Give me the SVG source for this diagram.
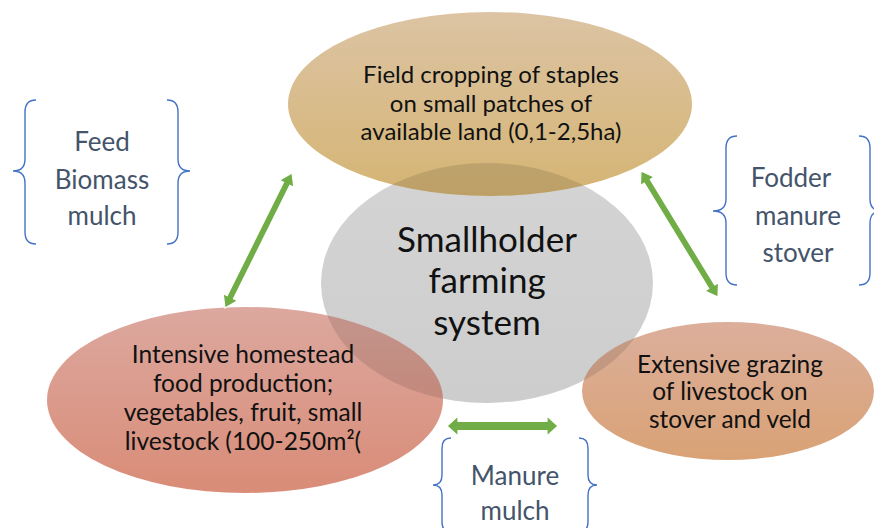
<svg xmlns="http://www.w3.org/2000/svg" width="874" height="528" viewBox="0 0 874 528">
<style>
.t{font-family:Lato,"Liberation Sans",sans-serif;fill:#111;text-anchor:middle}
.b{font-family:Lato,"Liberation Sans",sans-serif;fill:#44546a;text-anchor:middle;font-size:26px}
.brace{fill:none;stroke:#4472c4;stroke-width:1.4}
.arr{fill:#70ad47;stroke:#fff;stroke-width:1.2}
</style>
<defs>
<linearGradient id="gTop" x1="0" y1="0" x2="0" y2="1"><stop offset="0" stop-color="#dcc4a4"/><stop offset="1" stop-color="#d5b473"/></linearGradient>
<linearGradient id="gLeft" x1="0" y1="0" x2="0" y2="1"><stop offset="0" stop-color="#dca89f"/><stop offset="1" stop-color="#d98c77"/></linearGradient>
<linearGradient id="gRight" x1="0" y1="0" x2="0" y2="1"><stop offset="0" stop-color="#dcaf9c"/><stop offset="1" stop-color="#d9a275"/></linearGradient>
<linearGradient id="gGrey" x1="0" y1="0" x2="0" y2="1"><stop offset="0" stop-color="#d4d4d4"/><stop offset="1" stop-color="#cdcdcd"/></linearGradient>
<clipPath id="cOver">
<ellipse cx="490" cy="104" rx="202" ry="92"/>
<ellipse cx="245" cy="400" rx="198" ry="93"/>
<ellipse cx="728" cy="391" rx="146" ry="69"/>
</clipPath>
</defs>
<g id="node-center-shape"><ellipse cx="487" cy="283" rx="166" ry="120" fill="url(#gGrey)"/></g>
<g id="node-top"><ellipse cx="490" cy="104" rx="202" ry="92" fill="url(#gTop)"/></g>
<g id="node-left"><ellipse cx="245" cy="400" rx="198" ry="93" fill="url(#gLeft)"/></g>
<g id="node-right"><ellipse cx="728" cy="391" rx="146" ry="69" fill="url(#gRight)"/></g>
<g id="overlap"><ellipse cx="487" cy="283" rx="166" ry="120" fill="#000" fill-opacity="0.11" clip-path="url(#cOver)"/></g>
<g id="node-top-text" class="t" font-size="24">
<text x="491" y="83">Field cropping of staples</text>
<text x="491" y="112">on small patches of</text>
<text x="491" y="140">available land (0,1-2,5ha)</text>
</g>
<g id="node-center" class="t" font-size="35">
<text x="487" y="252">Smallholder</text>
<text x="487" y="293">farming</text>
<text x="487" y="335">system</text>
</g>
<g id="node-left-text" class="t" font-size="24.5">
<text x="243" y="363">Intensive homestead</text>
<text x="243" y="392">food production;</text>
<text x="243" y="421">vegetables, fruit, small</text>
<text x="243" y="450">livestock (100-250m²(</text>
</g>
<g id="node-right-text" class="t" font-size="24.4">
<text x="730" y="373">Extensive grazing</text>
<text x="730" y="400">of livestock on</text>
<text x="730" y="428">stover and veld</text>
</g>
<g id="connectors">
<path class="arr" transform="translate(225,308) rotate(-63.6)" d="M0,0 L12,-8 L12,-3.5 L138.7,-3.5 L138.7,-8 L150.7,0 L138.7,8 L138.7,3.5 L12,3.5 L12,8 Z"/>
<path class="arr" transform="translate(641,171) rotate(58.6)" d="M0,0 L12,-8 L12,-3.5 L135.7,-3.5 L135.7,-8 L147.7,0 L135.7,8 L135.7,3.5 L12,3.5 L12,8 Z"/>
<path class="arr" transform="translate(447,426)" d="M0,0 L11,-10 L11,-4.5 L100,-4.5 L100,-10 L111,0 L100,10 L100,4.5 L11,4.5 L11,10 Z"/>
</g>
<g id="label-feed">
<path class="brace" d="M36,100 Q25,100 25,112 L25,159 Q25,171 13,171 Q25,171 25,183 L25,232 Q25,244 36,244"/>
<path class="brace" d="M167,100 Q178,100 178,112 L178,159 Q178,171 190,171 Q178,171 178,183 L178,232 Q178,244 167,244"/>
<text class="b" x="102" y="151">Feed</text>
<text class="b" x="102" y="189">Biomass</text>
<text class="b" x="102" y="225">mulch</text>
</g>
<g id="label-fodder">
<path class="brace" d="M737,136 Q726,136 726,148 L726,199 Q726,211 713,211 Q726,211 726,223 L726,273 Q726,285 737,285"/>
<path class="brace" d="M859,136 Q870,136 870,148 L870,199 Q870,211 882,211 Q870,211 870,223 L870,273 Q870,285 859,285"/>
<text class="b" x="791" y="187">Fodder</text>
<text class="b" x="798" y="225">manure</text>
<text class="b" x="798" y="262">stover</text>
</g>
<g id="label-manure">
<path class="brace" d="M451,438 Q442,438 442,448 L442,475 Q442,485 433,485 Q442,485 442,495 L442,522 Q442,532 451,532"/>
<path class="brace" d="M579,438 Q588,438 588,448 L588,475 Q588,485 597,485 Q588,485 588,495 L588,522 Q588,532 579,532"/>
<text class="b" x="515" y="485">Manure</text>
<text class="b" x="515" y="520">mulch</text>
</g>
</svg>
